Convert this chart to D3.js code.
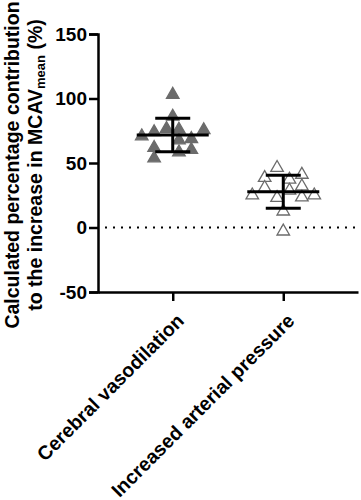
<!DOCTYPE html>
<html><head><meta charset="utf-8">
<script src="https://cdn.jsdelivr.net/npm/d3@7"></script>
<style>body{margin:0;background:#fff}svg{display:block}text{font-family:"Liberation Sans",Arial,sans-serif;font-weight:bold}</style>
</head><body><svg id="c" width="361" height="500"></svg>
<script>
const categories = ["Cerebral vasodilation", "Increased arterial pressure"];
const vasodilation = [103, 86, 76.5, 76, 70.8, 74, 75.5, 67.7, 68.7, 61.8, 60.2, 58.4, 53.7];
const vasodilationSlot = [0, 0, -0.5, 0.5, -2.5, -1.5, 2.5, 0.5, 1.5, -1.5, 1.5, 0.5, -1.5];
const pressure = [46.3, 38.5, 41, 37.2, 30.8, 28.7, 32, 25, 23, 23.5, 25, 12.5, -3];
const pressureSlot = [-0.5, -1.5, 1.5, 0.5, -1.5, 0.5, 1.5, -2.5, -0.5, 1.5, 2.5, 0, 0];
const yTicks = [-50, 0, 50, 100, 150];

const svg = d3.select("#c");
const y = d3.scaleLinear().domain([-50, 150]).range([292, 34]);
const x = d3.scalePoint().domain(categories).range([98, 358]).padding(0.676);
const slotW = 12.4;

// zero line
svg.append("line").attr("x1", 105).attr("x2", 358).attr("y1", y(0)).attr("y2", y(0))
  .attr("stroke", "#000").attr("stroke-width", 2).attr("stroke-dasharray", "2,6");

const groups = [
  {cat: categories[0], vals: vasodilation, slots: vasodilationSlot, fill: "#6b6b6b", stroke: "#6b6b6b"},
  {cat: categories[1], vals: pressure, slots: pressureSlot, fill: "#fff", stroke: "#6b6b6b"}
];
const tri = d3.symbol().type(d3.symbolTriangle).size(68);
groups.forEach(g => {
  svg.append("g").selectAll("path").data(g.vals).join("path")
    .attr("d", tri)
    .attr("transform", (d, i) => `translate(${x(g.cat) + g.slots[i] * slotW},${y(d)})`)
    .attr("fill", g.fill).attr("stroke", g.stroke).attr("stroke-width", 1.3);
});
groups.forEach(g => {
  const m = d3.mean(g.vals), s = d3.deviation(g.vals), cx = x(g.cat);
  const eb = svg.append("g").attr("stroke", "#000").attr("stroke-width", 3);
  eb.append("line").attr("x1", cx - 36).attr("x2", cx + 36).attr("y1", y(m)).attr("y2", y(m));
  eb.append("line").attr("x1", cx).attr("x2", cx).attr("y1", y(m + s)).attr("y2", y(m - s));
  [m + s, m - s].forEach(v => eb.append("line").attr("x1", cx - 17.5).attr("x2", cx + 17.5).attr("y1", y(v)).attr("y2", y(v)));
});

// axes
const ya = svg.append("g").attr("transform", "translate(98,0)")
  .call(d3.axisLeft(y).tickValues(yTicks).tickFormat(d => String(d)).tickSize(9).tickPadding(2));
const xa = svg.append("g").attr("transform", "translate(0,292)")
  .call(d3.axisBottom(x).tickSize(9).tickSizeOuter(0));
[ya, xa].forEach(a => {
  a.select(".domain").attr("stroke", "#000").attr("stroke-width", 2.5);
  a.selectAll(".tick line").attr("stroke", "#000").attr("stroke-width", 2.5);
});
ya.selectAll(".tick text").attr("font-size", 19).attr("fill", "#000").attr("font-family", "Liberation Sans, Arial").attr("font-weight", "bold");
xa.selectAll(".tick text").attr("font-size", 19.5).attr("fill", "#000")
  .attr("font-family", "Liberation Sans, Arial").attr("font-weight", "bold")
  .attr("text-anchor", "end").attr("dy", 0).attr("y", 0)
  .attr("transform", "translate(12,30) rotate(-45)");

// y title
svg.append("text").attr("transform", "translate(18.5,165) rotate(-90)")
  .attr("text-anchor", "middle").attr("font-size", 19.5).attr("fill", "#000")
  .text("Calculated percentage contribution");
const t2 = svg.append("text").attr("transform", "translate(42,165) rotate(-90)")
  .attr("text-anchor", "middle").attr("font-size", 19.5).attr("fill", "#000");
t2.append("tspan").text("to the increase in MCAV");
t2.append("tspan").attr("font-size", 13).attr("dy", 3).text("mean");
t2.append("tspan").attr("dy", -3).text(" (%)");
</script></body></html>
